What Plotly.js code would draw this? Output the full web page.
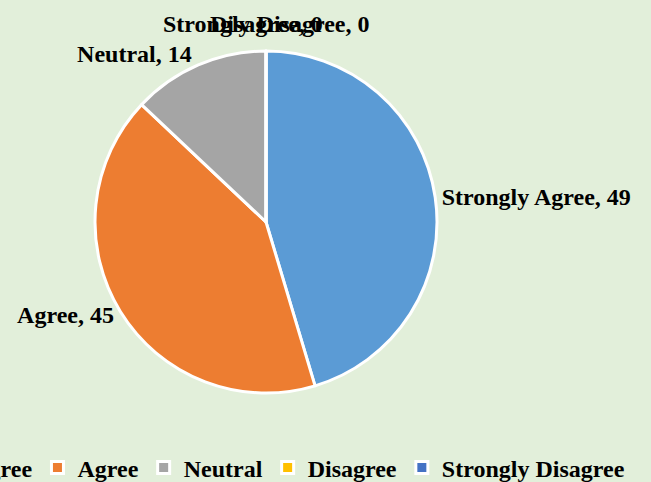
<!DOCTYPE html>
<html>
<head>
<meta charset="utf-8">
<script src="https://cdn.plot.ly/plotly-3.0.1.min.js"></script>
<style>
html,body{margin:0;padding:0;width:651px;height:482px;overflow:hidden;background:#E2EFDA;}
#wrap{position:absolute;left:0;top:0;width:651px;height:482px;overflow:hidden;}
#chart{position:absolute;left:-180px;top:0;width:840px;height:482px;}
</style>
</head>
<body>
<div id="wrap"><div id="chart"></div></div>
<script>
const categories = ["Strongly Agree", "Agree", "Neutral", "Disagree", "Strongly Disagree"];
const counts = [49, 45, 14, 0, 0];
const sliceColors = ["#5B9BD5", "#ED7D31", "#A5A5A5", "#FFC000", "#4472C4"];

const font = {family: "'Liberation Serif', 'Times New Roman', serif", size: 24, color: "#000000", weight: "bold"};

// Zero-valued slices have their labels drawn centred over the top of the pie (as in the original)
const templates = counts.map(v => v > 0 ? "<b>%{label}, %{value}</b>" : "");
const zeroAnnotations = categories
  .map((c, i) => ({c, v: counts[i]}))
  .filter(d => d.v === 0)
  .reverse()
  .map(d => ({
    text: "<b>" + d.c + ", " + d.v + "</b>",
    xref: "paper", yref: "paper",
    x: 446/840, y: 1 - 24/482,
    xanchor: "center", yanchor: "middle",
    showarrow: false,
    font: font
  }));

const trace = {
  type: "pie",
  labels: categories,
  values: counts,
  sort: false,
  direction: "clockwise",
  rotation: 0,
  marker: {colors: sliceColors, line: {color: "#FFFFFF", width: 3}},
  textposition: "outside",
  texttemplate: templates,
  outsidetextfont: font,
  textfont: font,
  hoverinfo: "label+value",
  domain: {x: [275/840, 617/840], y: [(260-171)/482, (260+171)/482]},
  automargin: false
};

const layout = {
  width: 840,
  height: 482,
  paper_bgcolor: "#E2EFDA",
  plot_bgcolor: "#E2EFDA",
  margin: {l: 0, r: 0, t: 0, b: 0, autoexpand: false},
  showlegend: true,
  legend: {
    orientation: "h",
    x: 810/840,
    xanchor: "right",
    y: 14/482,
    yanchor: "middle",
    font: font,
    bgcolor: "rgba(0,0,0,0)",
    traceorder: "normal"
  },
  annotations: zeroAnnotations
};

Plotly.newPlot("chart", [trace], layout, {displayModeBar: false, staticPlot: true});
</script>
</body>
</html>
